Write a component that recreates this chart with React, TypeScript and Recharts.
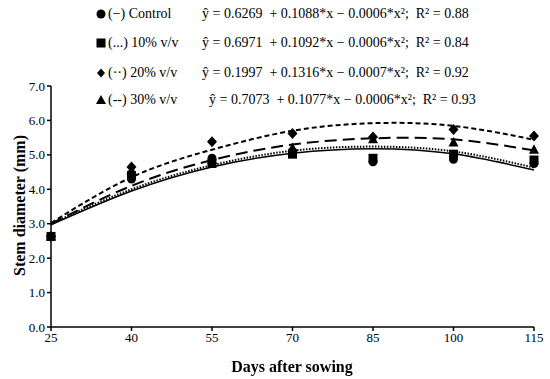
import React from 'react';
import { ComposedChart, Line, Scatter, XAxis, YAxis, ZAxis } from 'recharts';

const days = [25, 40, 55, 70, 85, 100, 115];
const xTicks = [25, 40, 55, 70, 85, 100, 115];
const yTicks = [0, 1, 2, 3, 4, 5, 6, 7];

const controlObs = [2.63, 4.3, 4.9, 5.1, 4.8, 4.87, 4.75];
const v10Obs = [2.63, 4.4, 4.75, 5.02, 4.9, 5.02, 4.85];
const v20Obs = [2.63, 4.65, 5.38, 5.62, 5.52, 5.74, 5.55];
const v30Obs = [2.63, 4.55, 4.85, 5.2, 5.45, 5.36, 5.15];

const controlFit = [2.97, 3.95, 4.65, 5.05, 5.18, 5.03, 4.56];
const v10Fit = [3.0, 4.0, 4.7, 5.12, 5.24, 5.1, 4.63];
const v20Fit = [3.02, 4.35, 5.15, 5.7, 5.92, 5.84, 5.44];
const v30Fit = [3.0, 4.1, 4.85, 5.3, 5.48, 5.45, 5.13];

const legendLabels = ['(\u2212) Control', '(...) 10% v/v', '(\u00b7\u00b7) 20% v/v', '(--) 30% v/v'];
const equations = [
  '\u0177 = 0.6269  + 0.1088*x \u2212 0.0006*x\u00b2;  R\u00b2 = 0.88',
  '\u0177 = 0.6971  + 0.1092*x \u2212 0.0006*x\u00b2;  R\u00b2 = 0.84',
  '\u0177 = 0.1997  + 0.1316*x \u2212 0.0007*x\u00b2;  R\u00b2 = 0.92',
  '\u0177 = 0.7073  + 0.1077*x \u2212 0.0006*x\u00b2;  R\u00b2 = 0.93',
];

const rows = days.map((d, i) => ({
  day: d,
  controlObs: controlObs[i],
  v10Obs: v10Obs[i],
  v20Obs: v20Obs[i],
  v30Obs: v30Obs[i],
  controlFit: controlFit[i],
  v10Fit: v10Fit[i],
  v20Fit: v20Fit[i],
  v30Fit: v30Fit[i],
}));

const FONT = '"Liberation Serif", "Times New Roman", serif';

const CircleShape = (p: any) => <circle cx={p.cx} cy={p.cy} r={4.5} fill="#000" />;
const SquareShape = (p: any) => <rect x={p.cx - 4.5} y={p.cy - 4.5} width={9} height={9} fill="#000" />;
const DiamondShape = (p: any) => (
  <path d={`M${p.cx},${p.cy - 5.5}L${p.cx + 5},${p.cy}L${p.cx},${p.cy + 5.5}L${p.cx - 5},${p.cy}Z`} fill="#000" />
);
const TriangleShape = (p: any) => (
  <path d={`M${p.cx},${p.cy - 5.5}L${p.cx + 5},${p.cy + 4}L${p.cx - 5},${p.cy + 4}Z`} fill="#000" />
);

const legendMarkers = [
  <circle cx={6} cy={6} r={4.5} fill="#000" />,
  <rect x={1.5} y={1.5} width={9} height={9} fill="#000" />,
  <path d="M6,1.5L10,6L6,10.5L2,6Z" fill="#000" />,
  <path d="M6,1L11,10L1,10Z" fill="#000" />,
];
const legendY = [14, 43, 73, 100];
const eqX = [202, 202, 202, 209];

export default function App() {
  return (
    <div style={{ position: 'fixed', left: 0, top: 0, width: 550, height: 379, background: '#fff', fontFamily: FONT }}>
      <ComposedChart
        width={550}
        height={379}
        data={rows}
        margin={{ top: 86, right: 16, bottom: 22, left: 0 }}
      >
        <XAxis
          dataKey="day"
          type="number"
          domain={[25, 115]}
          ticks={xTicks}
          interval={0}
          height={30}
          tickSize={4}
          stroke="#000"
          strokeWidth={1.5}
          tick={{ fill: '#000', fontSize: 13, fontFamily: FONT }}
          tickLine={{ stroke: '#000' }}
        />
        <YAxis
          type="number"
          domain={[0, 7]}
          ticks={yTicks}
          interval={0}
          width={51}
          tickSize={4}
          stroke="#000"
          strokeWidth={1.5}
          tickFormatter={(v: number) => v.toFixed(1)}
          tick={{ fill: '#000', fontSize: 13, fontFamily: FONT }}
          tickLine={{ stroke: '#000' }}
        />
        <ZAxis range={[64, 64]} />
        <Line dataKey="controlFit" type="natural" stroke="#000" strokeWidth={1.5} dot={false} isAnimationActive={false} />
        <Line dataKey="v10Fit" type="natural" stroke="#000" strokeWidth={2} strokeDasharray="1.5 1.5" dot={false} isAnimationActive={false} />
        <Line dataKey="v20Fit" type="natural" stroke="#000" strokeWidth={2} strokeDasharray="5 3" dot={false} isAnimationActive={false} />
        <Line dataKey="v30Fit" type="natural" stroke="#000" strokeWidth={2} strokeDasharray="12 6" dot={false} isAnimationActive={false} />
        <Scatter dataKey="controlObs" shape={CircleShape} isAnimationActive={false} />
        <Scatter dataKey="v10Obs" shape={SquareShape} isAnimationActive={false} />
        <Scatter dataKey="v20Obs" shape={DiamondShape} isAnimationActive={false} />
        <Scatter dataKey="v30Obs" shape={TriangleShape} isAnimationActive={false} />
      </ComposedChart>

      {legendLabels.map((lab, i) => (
        <React.Fragment key={lab}>
          <svg width={12} height={12} style={{ position: 'absolute', left: 95, top: legendY[i] - 6 }}>
            {legendMarkers[i]}
          </svg>
          <div style={{ position: 'absolute', left: 108, top: legendY[i] - 9, fontSize: 14, lineHeight: '18px', whiteSpace: 'pre' }}>{lab}</div>
          <div style={{ position: 'absolute', left: eqX[i], top: legendY[i] - 9, fontSize: 14, lineHeight: '18px', whiteSpace: 'pre' }}>{equations[i]}</div>
        </React.Fragment>
      ))}

      <div style={{ position: 'absolute', left: 0, width: 584, top: 357, textAlign: 'center', fontSize: 16, fontWeight: 'bold', lineHeight: '19px' }}>
        Days after sowing
      </div>
      <div style={{ position: 'absolute', left: 19, top: 206, width: 0, height: 0 }}>
        <div style={{ position: 'absolute', left: -100, top: -10, width: 200, textAlign: 'center', fontSize: 16, fontWeight: 'bold', lineHeight: '19px', whiteSpace: 'nowrap', transform: 'rotate(-90deg)' }}>
          Stem diameter (mm)
        </div>
      </div>
    </div>
  );
}
